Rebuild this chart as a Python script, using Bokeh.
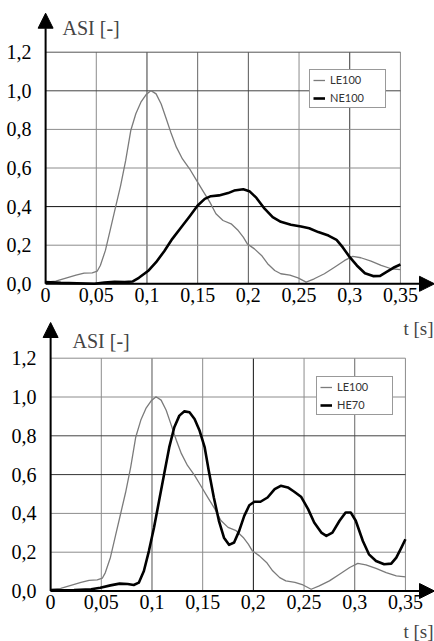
from bokeh.plotting import figure
from bokeh.models import (Range1d, LinearAxis, FixedTicker, Arrow, NormalHead, Label,
                          Legend, LegendItem, ColumnDataSource)
from bokeh.embed import file_html
from bokeh.resources import INLINE

# ---------------- data ----------------
x_ticks = [0, 0.05, 0.1, 0.15, 0.2, 0.25, 0.3, 0.35]
x_tick_labels = ["0", "0,05", "0,1", "0,15", "0,2", "0,25", "0,3", "0,35"]
y_ticks = [0.0, 0.2, 0.4, 0.6, 0.8, 1.0, 1.2]
y_tick_labels = ["0,0", "0,2", "0,4", "0,6", "0,8", "1,0", "1,2"]

le100_t = [0.000, 0.010, 0.020, 0.030, 0.038, 0.046, 0.051, 0.054, 0.059, 0.064, 0.069,
           0.074, 0.079, 0.084, 0.089, 0.094, 0.099, 0.104, 0.109, 0.114, 0.119, 0.124,
           0.129, 0.135, 0.142, 0.148, 0.155, 0.162, 0.168, 0.175, 0.183, 0.190, 0.195,
           0.199, 0.206, 0.213, 0.219, 0.226, 0.232, 0.241, 0.249, 0.257, 0.265, 0.275,
           0.285, 0.295, 0.303, 0.311, 0.321, 0.331, 0.341, 0.350]
le100_asi = [0.009, 0.014, 0.029, 0.045, 0.055, 0.057, 0.066, 0.095, 0.173, 0.285, 0.397,
             0.509, 0.639, 0.794, 0.881, 0.941, 0.979, 1.001, 0.984, 0.932, 0.855, 0.777,
             0.708, 0.647, 0.596, 0.544, 0.483, 0.423, 0.363, 0.328, 0.311, 0.276, 0.242,
             0.207, 0.181, 0.147, 0.104, 0.069, 0.052, 0.045, 0.031, 0.009, 0.026, 0.052,
             0.086, 0.121, 0.142, 0.135, 0.117, 0.095, 0.078, 0.073]

ne100_t = [0.000, 0.015, 0.031, 0.048, 0.058, 0.068, 0.078, 0.086, 0.092, 0.101, 0.109,
           0.117, 0.125, 0.134, 0.142, 0.150, 0.157, 0.163, 0.171, 0.180, 0.186, 0.195,
           0.201, 0.208, 0.216, 0.224, 0.232, 0.242, 0.252, 0.260, 0.269, 0.279, 0.287,
           0.293, 0.300, 0.307, 0.315, 0.323, 0.330, 0.336, 0.343, 0.350]
ne100_asi = [0.009, 0.005, 0.003, 0.000, 0.007, 0.010, 0.009, 0.012, 0.031, 0.066, 0.112,
             0.169, 0.233, 0.294, 0.349, 0.406, 0.440, 0.454, 0.458, 0.470, 0.483, 0.490,
             0.480, 0.445, 0.389, 0.345, 0.321, 0.306, 0.297, 0.288, 0.268, 0.250, 0.228,
             0.190, 0.138, 0.095, 0.055, 0.040, 0.041, 0.060, 0.083, 0.100]

he70_t = [0.000, 0.023, 0.040, 0.049, 0.059, 0.068, 0.076, 0.082, 0.087, 0.092, 0.097,
          0.102, 0.107, 0.112, 0.117, 0.122, 0.127, 0.132, 0.137, 0.142, 0.147, 0.152,
          0.156, 0.161, 0.166, 0.171, 0.176, 0.181, 0.186, 0.191, 0.196, 0.201, 0.207,
          0.214, 0.221, 0.227, 0.234, 0.240, 0.247, 0.254, 0.260, 0.267, 0.272, 0.278,
          0.285, 0.291, 0.296, 0.301, 0.308, 0.314, 0.321, 0.329, 0.336, 0.341, 0.346, 0.350]
he70_asi = [0.003, 0.005, 0.009, 0.017, 0.029, 0.038, 0.036, 0.031, 0.043, 0.103, 0.207,
            0.327, 0.465, 0.603, 0.740, 0.844, 0.904, 0.926, 0.921, 0.887, 0.826, 0.740,
            0.620, 0.482, 0.362, 0.275, 0.238, 0.250, 0.310, 0.387, 0.442, 0.460, 0.460,
            0.482, 0.525, 0.542, 0.534, 0.513, 0.486, 0.422, 0.353, 0.301, 0.284, 0.301,
            0.362, 0.405, 0.405, 0.362, 0.258, 0.189, 0.155, 0.138, 0.141, 0.172, 0.224, 0.267]

# ---------------- layout / style ----------------
W, H = 434, 641
SERIF = "Liberation Serif"
GRID_LIGHT, GRID_DARK = "#8c8c8c", "#3a3a3a"

# pixel geometry of each panel: x=0, x=0.35, y=0, y=1.2, arrow tip y
panel1 = dict(x0=45, x35=399, y0=283.3, y12=51.7, tip=12.7)
panel2 = dict(x0=50, x35=404, y0=590.5, y12=357.7, tip=322)


def ranges(g):
    kx = (g["x35"] - g["x0"]) / x_ticks[-1]
    ky = (g["y0"] - g["y12"]) / y_ticks[-1]
    xr = (-g["x0"] / kx, (W - 1 - g["x0"]) / kx)
    yr = ((g["y0"] - H) / ky, g["y0"] / ky)
    return xr, yr, (g["y0"] - g["tip"]) / ky


xr1, yr1, ytip1 = ranges(panel1)
xr2, yr2, ytip2 = ranges(panel2)

p = figure(width=W, height=H, output_backend="svg", toolbar_location=None,
           x_range=Range1d(*xr1), y_range=Range1d(*yr1),
           x_axis_type=None, y_axis_type=None, min_border=0)
p.extra_x_ranges = {"x2": Range1d(*xr2)}
p.extra_y_ranges = {"y2": Range1d(*yr2)}
p.outline_line_color = None
p.background_fill_color = "white"
p.border_fill_color = "white"


def draw_panel(xn, yn, vcolors, hcolors, ytip, dark_series, dark_label, leg_loc,
               asi_pos, t_pos):
    kw = {} if xn == "default" else dict(x_range_name=xn, y_range_name=yn)
    # grid
    vsrc = ColumnDataSource(dict(x=x_ticks, c=vcolors))
    hsrc = ColumnDataSource(dict(y=y_ticks, c=hcolors))
    p.segment(x0="x", y0=y_ticks[0], x1="x", y1=y_ticks[-1], source=vsrc,
              line_color="c", line_width=1, **kw)
    p.segment(x0=x_ticks[0], y0="y", x1=x_ticks[-1], y1="y", source=hsrc,
              line_color="c", line_width=1, **kw)
    # series
    r_le = p.line(le100_t, le100_asi, line_color="#7b7b7b", line_width=1.3,
                  line_join="round", **kw)
    r_dk = p.line(dark_series[0], dark_series[1], line_color="black", line_width=2.6,
                  line_join="round", **kw)
    # axes (labels only), lines drawn as arrows
    rng = dict(x_range_name=xn, y_range_name=yn)
    common = dict(axis_line_color=None, major_tick_line_color=None,
                  minor_tick_line_color=None, major_tick_in=0, major_tick_out=0,
                  minor_tick_in=0, minor_tick_out=0,
                  major_label_text_font=SERIF, major_label_text_font_size="20px",
                  major_label_text_color="black", fixed_location=0, **rng)
    xa = LinearAxis(ticker=FixedTicker(ticks=x_ticks),
                    major_label_overrides=dict(zip(x_ticks, x_tick_labels)),
                    major_label_standoff=4, **common)
    ya = LinearAxis(ticker=FixedTicker(ticks=y_ticks),
                    major_label_overrides=dict(zip(y_ticks, y_tick_labels)),
                    major_label_standoff=14, **common)
    p.add_layout(xa, "below")
    p.add_layout(ya, "left")
    xrng = p.x_range if xn == "default" else p.extra_x_ranges[xn]
    p.add_layout(Arrow(end=NormalHead(size=15, fill_color="black", line_color="black"),
                       x_start=0, y_start=0, x_end=xrng.end, y_end=0,
                       line_width=2, line_color="black", **kw))
    p.add_layout(Arrow(end=NormalHead(size=15, fill_color="black", line_color="black"),
                       x_start=0, y_start=0, x_end=0, y_end=ytip,
                       line_width=2, line_color="black", **kw))
    # titles
    p.add_layout(Label(x=asi_pos[0], y=H - asi_pos[1], x_units="screen", y_units="screen",
                       text="ASI [-]", text_font=SERIF, text_font_size="20px",
                       text_baseline="alphabetic"))
    p.add_layout(Label(x=t_pos[0], y=H - t_pos[1], x_units="screen", y_units="screen",
                       text="t [s]", text_font=SERIF, text_font_size="19px",
                       text_baseline="alphabetic"))
    # legend
    leg = Legend(items=[LegendItem(label="LE100", renderers=[r_le]),
                        LegendItem(label=dark_label, renderers=[r_dk])],
                 location=leg_loc, label_text_font="Lato", label_text_font_size="11px",
                 label_text_color="#333333", label_height=12, glyph_height=12,
                 glyph_width=12, label_standoff=5, label_width=52, padding=3, spacing=5,
                 margin=0, border_line_color="#333333", border_line_width=1,
                 background_fill_color="white", background_fill_alpha=1)
    p.add_layout(leg)


L, D = GRID_LIGHT, GRID_DARK
draw_panel("default", "default",
           vcolors=[L, L, D, "#666666", "#555555", L, D, L],
           hcolors=[L, L, "#111111", L, L, "#444444", "#555555"],
           ytip=ytip1, dark_series=(ne100_t, ne100_asi), dark_label="NE100",
           leg_loc=(309, H - 108), asi_pos=(62, 27), t_pos=(403, 328))
draw_panel("x2", "y2",
           vcolors=[L, L, "#555555", L, "#111111", L, "#666666", L],
           hcolors=[L, L, L, "#333333", "#444444", L, L],
           ytip=ytip2, dark_series=(he70_t, he70_asi), dark_label="HE70",
           leg_loc=(316, H - 415), asi_pos=(72, 340), t_pos=(403, 631))

open("out.html", "w").write(file_html(p, INLINE))
